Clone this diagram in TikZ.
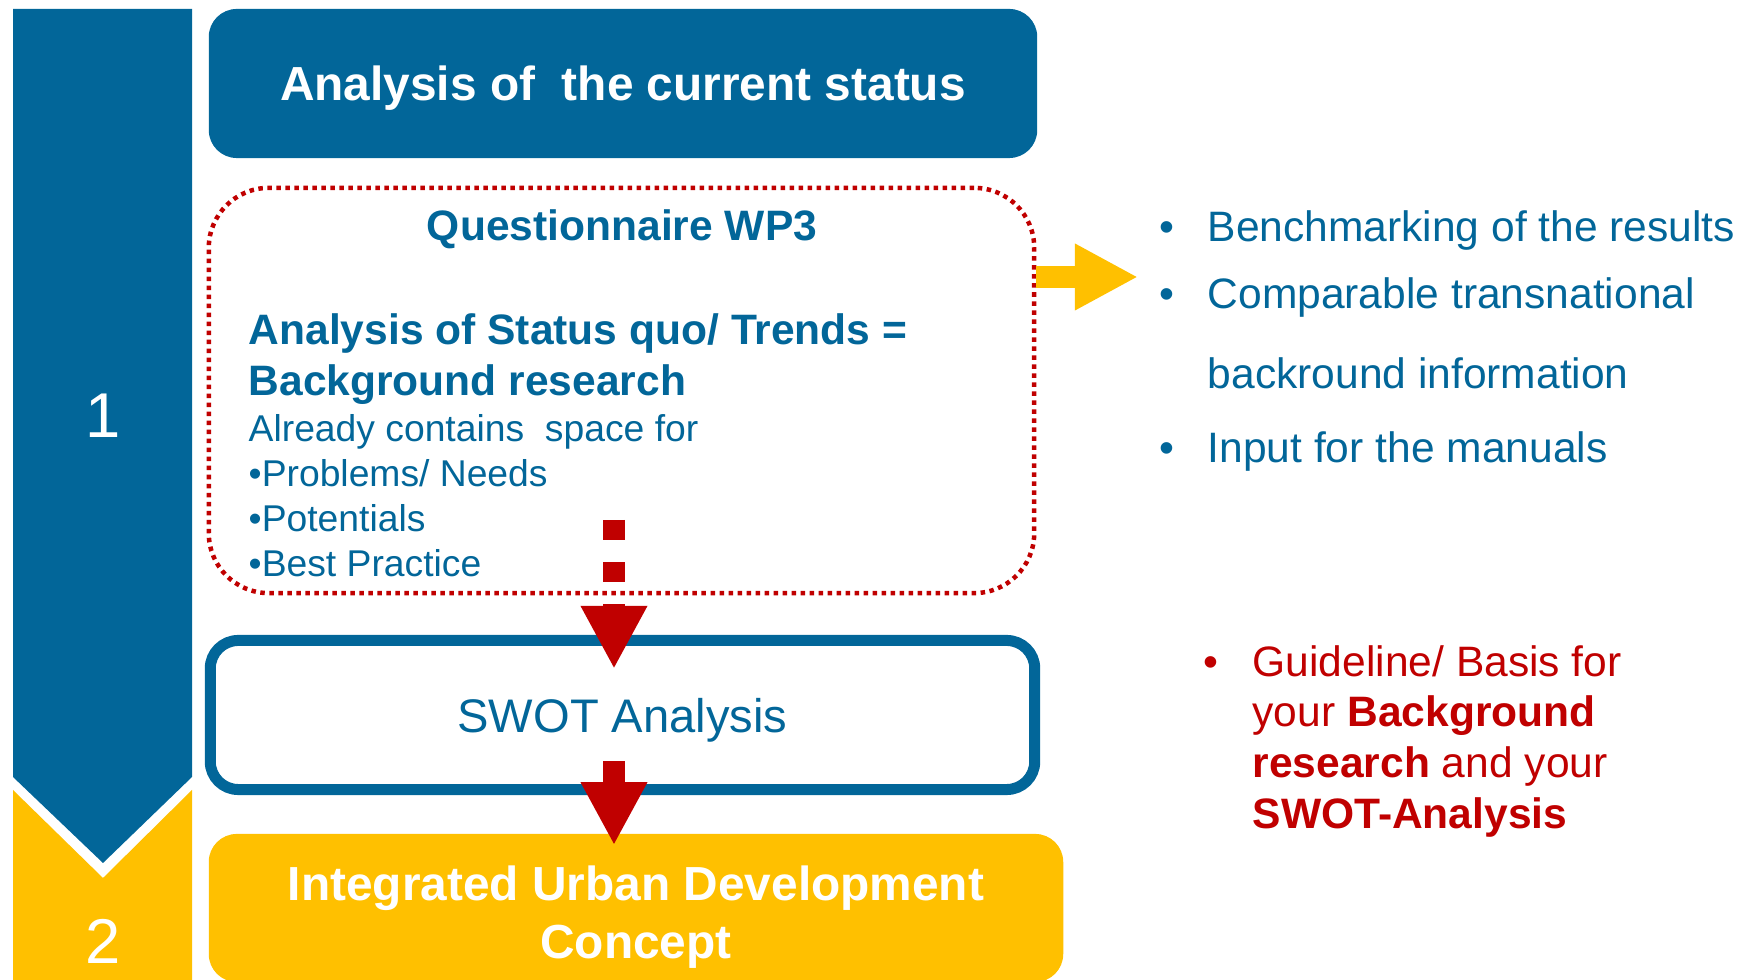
\documentclass[tikz,border=0pt]{standalone}
\usepackage{fontspec}
\setmainfont{Liberation Sans}
\usetikzlibrary{arrows.meta,calc,positioning}
\definecolor{wpblue}{RGB}{2,102,153}
\definecolor{wpyellow}{RGB}{255,192,0}
\definecolor{wpred}{RGB}{192,0,0}
\newcommand{\titlefont}{\fontsize{13.6}{16.5}\selectfont\bfseries}
\newcommand{\headfont}{\fontsize{12.1}{14.5}\selectfont\bfseries}
\newcommand{\bodyfont}{\fontsize{10.6}{12.8}\selectfont}
\newcommand{\listfont}{\fontsize{12.1}{14.5}\selectfont}

\begin{document}
\begin{tikzpicture}[x=0.01cm,y=-0.01cm,
  every node/.style={text=wpblue,inner sep=0pt},
  box/.style={rectangle,rounded corners=0.28cm,minimum width=8.28cm,minimum height=1.49cm,align=center},
  num/.style={text=white,font=\fontsize{18}{20}\selectfont},
  item/.style={anchor=west,font=\listfont},
  bigarrow/.style={line width=0.22cm,-{Triangle[length=0.63cm,width=0.62cm]}}]

        \useasboundingbox (0,0) rectangle (1753,980);

        \fill[wpblue] (13,9) -- (192,9) -- (192,777) -- (103,863) -- (13,777) -- cycle;
        \fill[wpyellow] (13,790) -- (103,878) -- (192,790) -- (192,980) -- (13,980) -- cycle;
        \node (one) [num] at (103,416) {1};
        \node (two) [num] at (103,941) {2};

        \node (title) [box,fill=wpblue,text=white,text depth=0pt,font=\titlefont] at (623,83.5) {Analysis of~ the current status};

        \node (quest) [draw=wpred,line width=0.045cm,dash pattern=on 0.045cm off 0.045cm,rounded corners=0.6cm,
                       minimum width=8.25cm,minimum height=4.05cm] at (621.5,390.5) {};
        \node (wp3) [font=\headfont] at (622,229.5) {Questionnaire WP3};
        \node (status) [anchor=west,align=left,font=\headfont] at (248,359) {Analysis of Status quo/ Trends =\\Background research};
        \node (contains) [anchor=west,align=left,font=\bodyfont] at (248,496) {Already contains~ space for\\•Problems/ Needs\\•Potentials\\•Best Practice};

        \node (swot) [box,draw=wpblue,line width=0.11cm,minimum width=8.24cm,text depth=0pt,font=\fontsize{13.4}{16}\selectfont] at (622.5,715) {SWOT Analysis};
        \node (iudc) [box,fill=wpyellow,text=white,minimum width=8.54cm,minimum height=1.48cm,text height=1.11cm,font=\titlefont] at (636,908) {Integrated Urban Development\\Concept};

        \coordinate (dstart) at (614,520);
        \draw[bigarrow,wpred,dash pattern=on 0.2cm off 0.22cm] (dstart) -- ($(swot.north -| dstart)+(0,34)$);
        \draw[bigarrow,wpred] ($(swot.south -| dstart)+(0,-34)$) -- ($(iudc.north -| dstart)+(0,12)$);

        \coordinate (ytip) at (1138,277);
        \draw[bigarrow,wpyellow] (quest.east |- ytip) -- (ytip);

        \node (res) [item] at (1207,230.5) {\llap{•\hspace{0.335cm}}Benchmarking of the results};
        \node (comp) [item] at (1207,297.5) {\llap{•\hspace{0.335cm}}Comparable transnational};
        \node (info) [item] at (1207,373.5) {backround information};
        \node (input) [item] at (1207,451.5) {\llap{•\hspace{0.335cm}}Input for the manuals};

        \node (guide) [item,align=left,text=wpred] at (1252,741.5) {\llap{•\hspace{0.345cm}}Guideline/ Basis for\\your \textbf{Background}\\\textbf{research} and your\\\textbf{SWOT-Analysis}};
      \end{tikzpicture}
\end{document}
